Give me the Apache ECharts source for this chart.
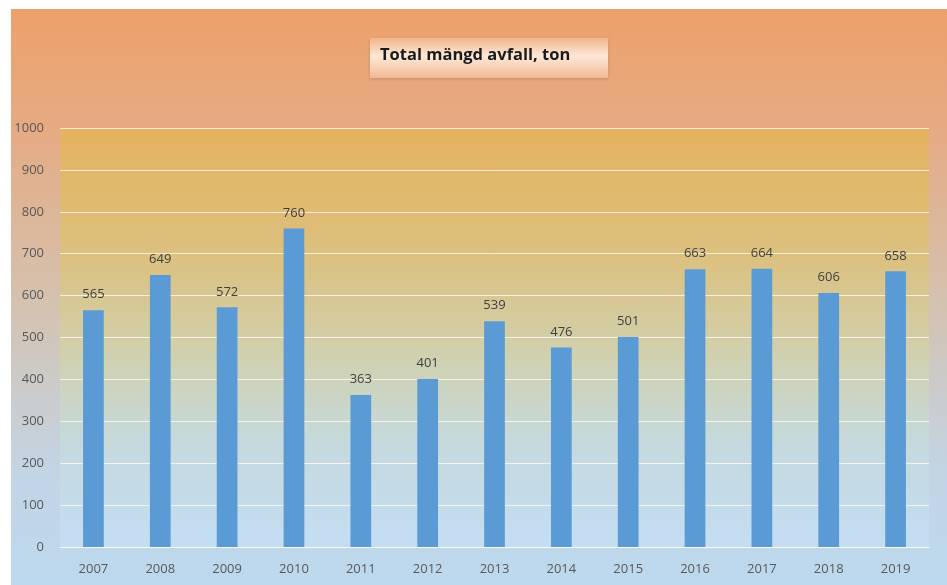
<!DOCTYPE html>
<html><head><meta charset="utf-8">
<script src="https://cdn.jsdelivr.net/npm/echarts@6/dist/echarts.min.js"></script>
<style>html,body{margin:0;padding:0;background:#fff}#c{width:947px;height:585px}</style>
</head><body><div id="c"></div>
<script>
const categories = ['2007','2008','2009','2010','2011','2012','2013','2014','2015','2016','2017','2018','2019'];
const values = [565,649,572,760,363,401,539,476,501,663,664,606,658];
const yTicks = [0,100,200,300,400,500,600,700,800,900,1000];
const titleText = 'Total mängd avfall, ton';

const chart = echarts.init(document.getElementById('c'), null, {renderer:'canvas'});
const grad = (stops) => new echarts.graphic.LinearGradient(0,0,0,1,stops);
chart.setOption({
  backgroundColor: '#ffffff',
  animation: false,
  graphic: [
    { type:'rect', z:-10, shape:{x:11,y:9,width:936,height:576},
      style:{ fill: grad([{offset:0,color:'#eca16b'},{offset:0.2,color:'#e6aa82'},{offset:0.5,color:'#d5c1ae'},{offset:0.8,color:'#c3d4e4'},{offset:1,color:'#bcd9ef'}]) } },
    { type:'rect', z:10, shape:{x:370,y:38,width:238,height:40},
      style:{ fill: grad([{offset:0,color:'#f2b48a'},{offset:0.45,color:'#fde8d8'},{offset:1,color:'#f3b995'}]), shadowColor:'rgba(0,0,0,0.15)', shadowBlur:3, shadowOffsetY:1 } },
    { type:'text', z:11, left:380, top:47,
      style:{ text:titleText, font:'bold 16.5px "Open Sans", "Liberation Sans", sans-serif', fill:'#1a1a1a' } }
  ],
  grid: { left:60, right:18, top:128, bottom:38, show:true, borderWidth:0,
    backgroundColor: grad([{offset:0,color:'#e5b25f'},{offset:0.3,color:'#dcc07e'},{offset:0.55,color:'#d0d1b0'},{offset:0.75,color:'#c5d9dd'},{offset:1,color:'#c3ddf3'}]) },
  xAxis: { type:'category', data:categories,
    axisLine:{show:true,lineStyle:{color:'rgba(255,255,255,0.6)'}}, axisTick:{show:false},
    axisLabel:{color:'#595959', fontSize:13, fontFamily:'"Open Sans", sans-serif', margin:16} },
  yAxis: { type:'value', min:0, max:1000, interval:100,
    axisLine:{show:false}, axisTick:{show:false},
    splitLine:{lineStyle:{color:'rgba(255,250,240,0.8)', width:1}},
    axisLabel:{color:'#595959', fontSize:13, fontFamily:'"Open Sans", sans-serif', margin:16,
      formatter: v => yTicks.includes(v) ? String(v) : ''} },
  series: [{ type:'bar', data:values, barWidth:'31%',
    itemStyle:{color:'#5b9bd5'},
    label:{show:true, position:'top', distance:9, color:'#404040', fontSize:13, fontFamily:'"Open Sans", sans-serif'} }]
});
</script></body></html>
